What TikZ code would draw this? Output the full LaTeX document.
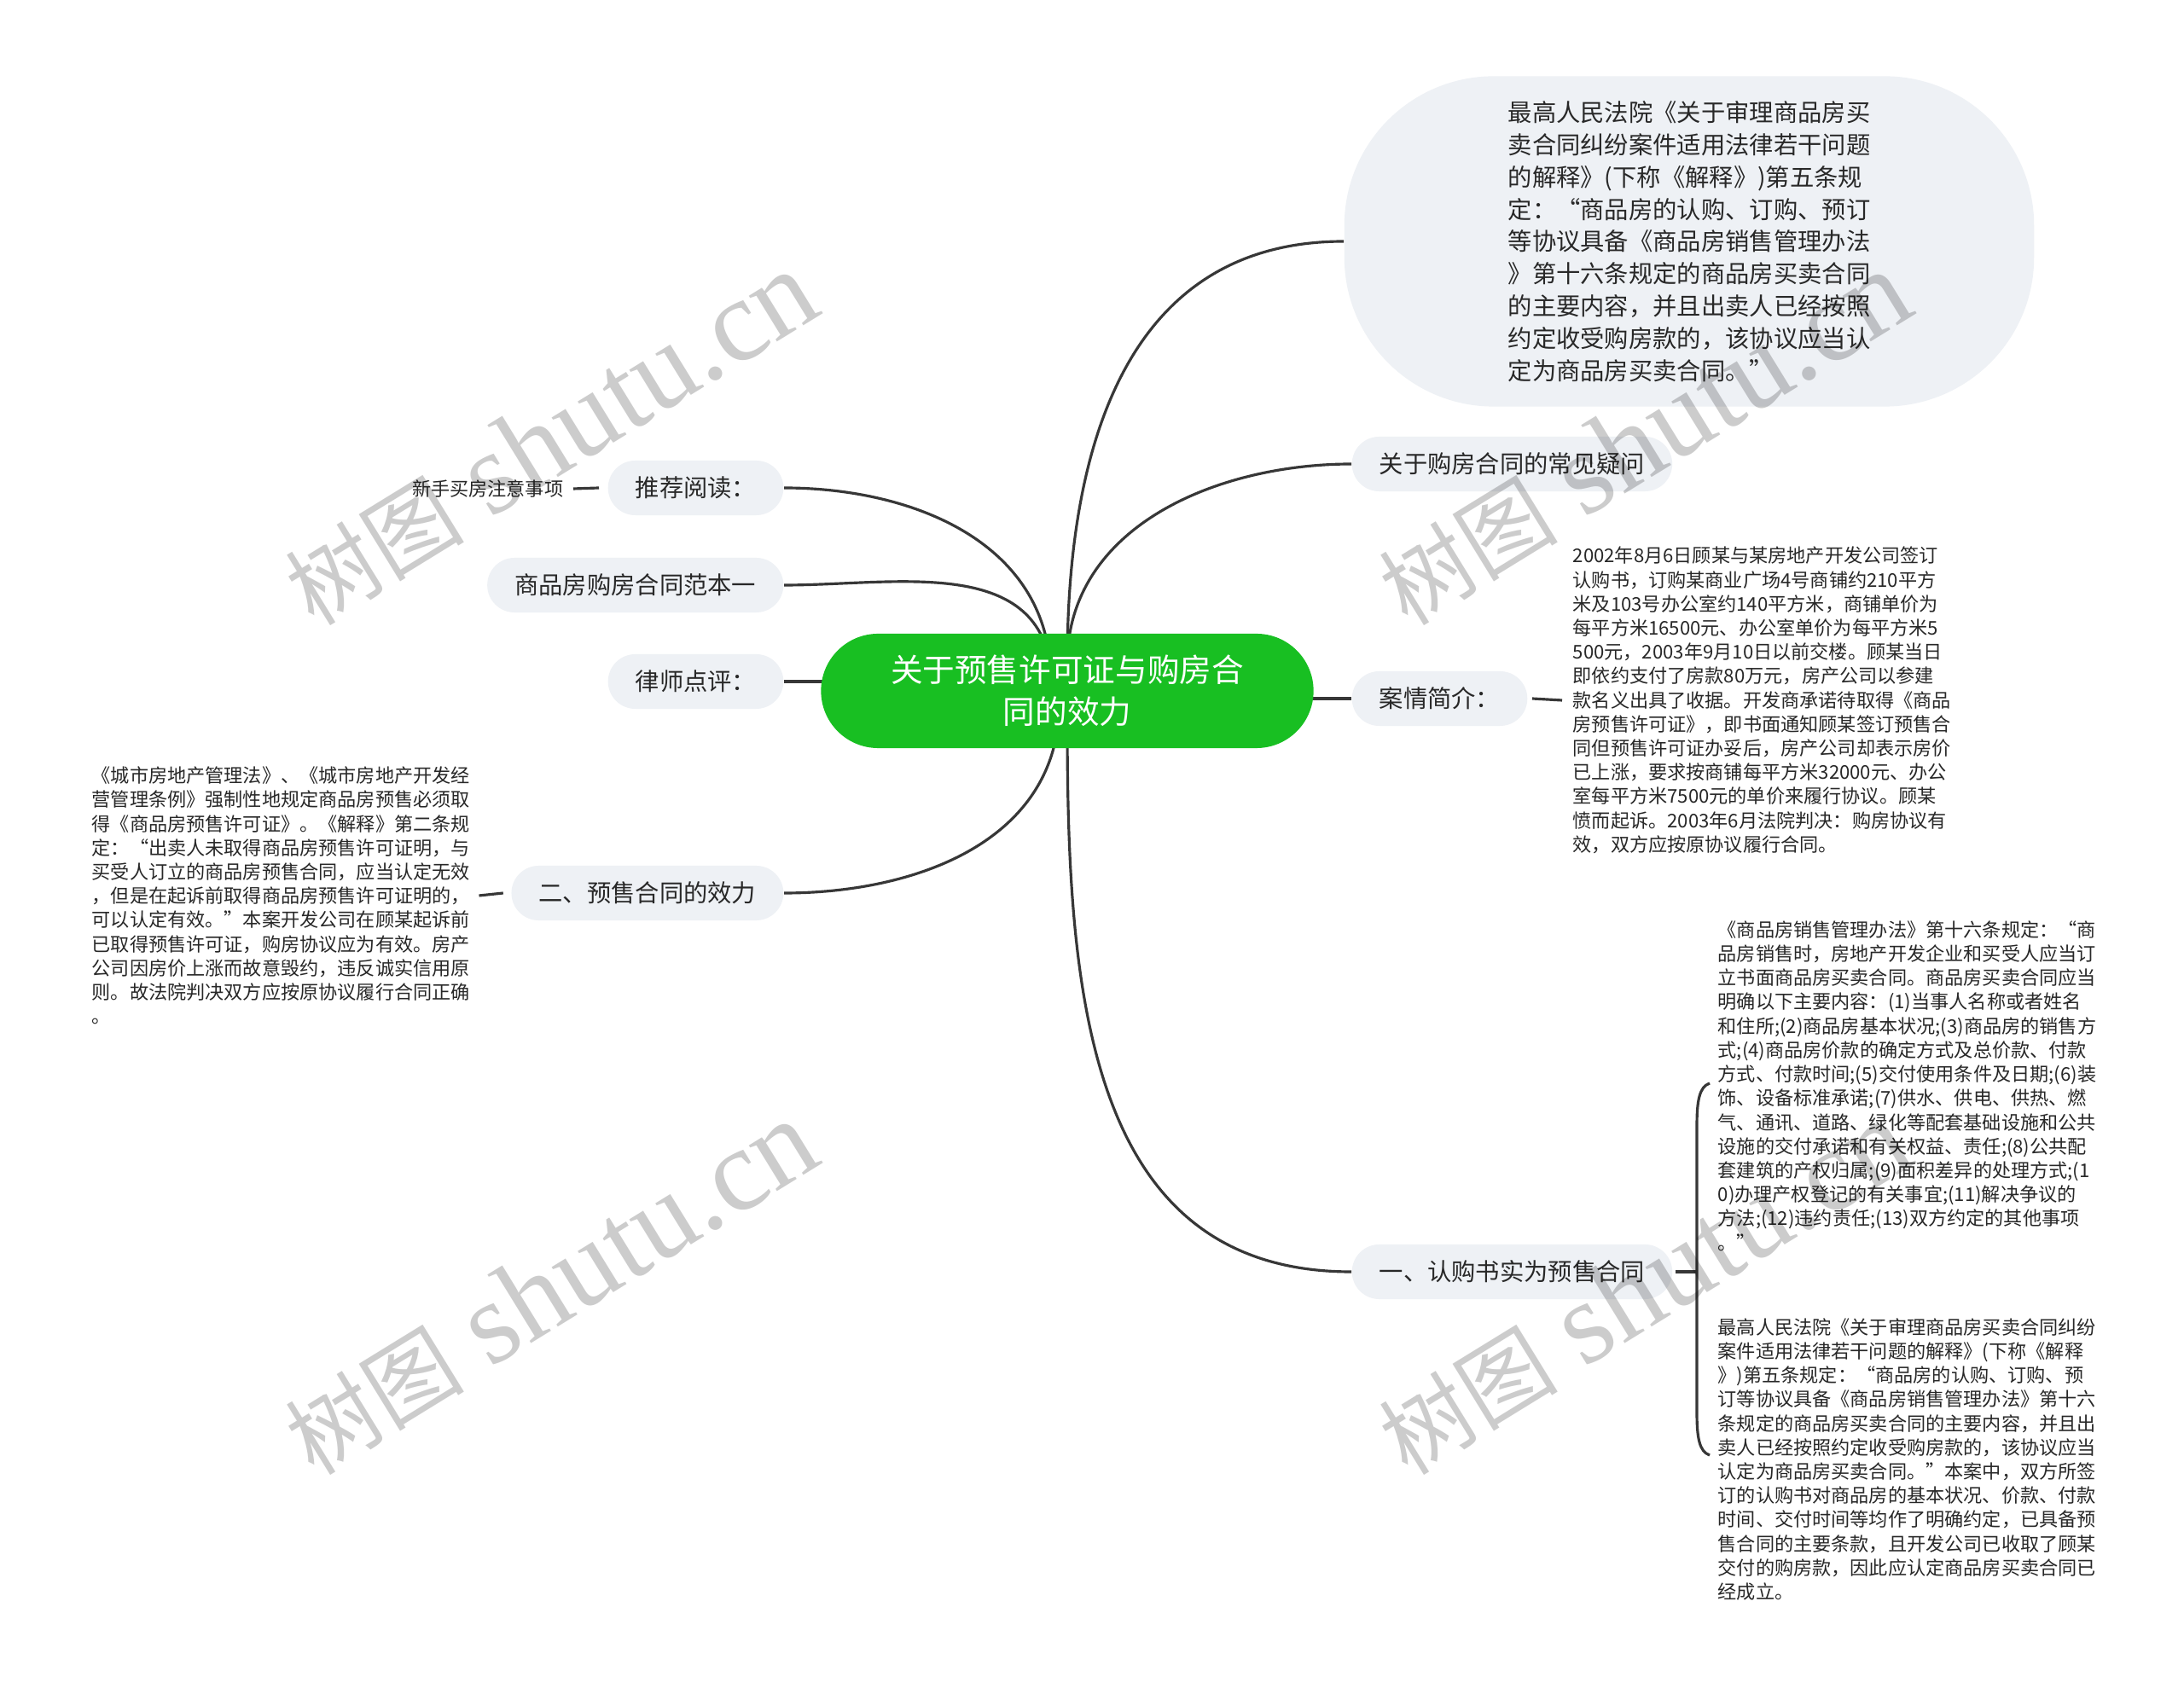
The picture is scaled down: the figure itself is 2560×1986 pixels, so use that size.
\documentclass[tikz,border=0pt]{standalone}
\usepackage{fontspec}
\setmainfont{Noto Sans CJK SC}
\newfontfamily\wmlatin{Liberation Serif}
\usetikzlibrary{backgrounds}
\definecolor{rootgreen}{RGB}{24,191,34}
\definecolor{boxgrey}{RGB}{238,241,245}
\definecolor{ink}{RGB}{40,40,40}
\definecolor{edgecol}{RGB}{55,55,55}
\tikzset{
  rootbox/.style={fill=rootgreen, rounded corners=0.67cm, minimum width=5.77cm, minimum height=1.34cm,
    text=white, align=center, inner sep=0pt, font=\fontsize{10.7}{13.9}\selectfont},
  topicbox/.style={fill=boxgrey, rounded corners=0.32cm, minimum height=0.64cm, inner xsep=0.32cm,
    inner ysep=0pt, text=ink, font=\fontsize{8.05}{10.75}\selectfont},
  bigbox/.style={fill=boxgrey, rounded corners=1.75cm, minimum width=8.08cm, minimum height=3.87cm,
    align=left, text=ink, inner sep=0pt, font=\fontsize{8.05}{10.75}\selectfont},
  detail/.style={text=ink, align=left, inner sep=0pt, font=\fontsize{6.3}{8.02}\selectfont},
  link/.style={draw=edgecol, line width=0.9pt},
  wm/.style={rotate=31.6, text=black, text opacity=0.2, inner sep=0pt}
}
\begin{document}
\begin{tikzpicture}[x=0.01cm, y=-0.01cm]
\useasboundingbox (0,0) rectangle (2560,1986);

% root
\node[rootbox] (root) at (1251,810) {关于预售许可证与购房合\\同的效力};

% right side
\node[bigbox] (t1) at (1980,283) {最高人民法院《关于审理商品房买\\%
卖合同纠纷案件适用法律若干问题\\%
的解释》(下称《解释》)第五条规\\%
定：“商品房的认购、订购、预订\\%
等协议具备《商品房销售管理办法\\%
》第十六条规定的商品房买卖合同\\%
的主要内容，并且出卖人已经按照\\%
约定收受购房款的，该协议应当认\\%
定为商品房买卖合同。”};
\node[topicbox, anchor=west] (t2) at (1584,544) {关于购房合同的常见疑问};
\node[topicbox, anchor=west] (t3) at (1584,819) {案情简介：};
\node[topicbox, anchor=west] (t4) at (1584,1491) {一、认购书实为预售合同};

\node[detail, anchor=west] (t3a) at (1843,821) {2002年8月6日顾某与某房地产开发公司签订\\%
认购书，订购某商业广场4号商铺约210平方\\%
米及103号办公室约140平方米，商铺单价为\\%
每平方米16500元、办公室单价为每平方米5\\%
500元，2003年9月10日以前交楼。顾某当日\\%
即依约支付了房款80万元，房产公司以参建\\%
款名义出具了收据。开发商承诺待取得《商品\\%
房预售许可证》，即书面通知顾某签订预售合\\%
同但预售许可证办妥后，房产公司却表示房价\\%
已上涨，要求按商铺每平方米32000元、办公\\%
室每平方米7500元的单价来履行协议。顾某\\%
愤而起诉。2003年6月法院判决：购房协议有\\%
效，双方应按原协议履行合同。};

\node[detail, anchor=west] (t4a) at (2013,1273) {《商品房销售管理办法》第十六条规定：“商\\%
品房销售时，房地产开发企业和买受人应当订\\%
立书面商品房买卖合同。商品房买卖合同应当\\%
明确以下主要内容：(1)当事人名称或者姓名\\%
和住所;(2)商品房基本状况;(3)商品房的销售方\\%
式;(4)商品房价款的确定方式及总价款、付款\\%
方式、付款时间;(5)交付使用条件及日期;(6)装\\%
饰、设备标准承诺;(7)供水、供电、供热、燃\\%
气、通讯、道路、绿化等配套基础设施和公共\\%
设施的交付承诺和有关权益、责任;(8)公共配\\%
套建筑的产权归属;(9)面积差异的处理方式;(1\\%
0)办理产权登记的有关事宜;(11)解决争议的\\%
方法;(12)违约责任;(13)双方约定的其他事项\\%
。”};

\node[detail, anchor=west] (t4b) at (2013,1711) {最高人民法院《关于审理商品房买卖合同纠纷\\%
案件适用法律若干问题的解释》(下称《解释\\%
》)第五条规定：“商品房的认购、订购、预\\%
订等协议具备《商品房销售管理办法》第十六\\%
条规定的商品房买卖合同的主要内容，并且出\\%
卖人已经按照约定收受购房款的，该协议应当\\%
认定为商品房买卖合同。”本案中，双方所签\\%
订的认购书对商品房的基本状况、价款、付款\\%
时间、交付时间等均作了明确约定，已具备预\\%
售合同的主要条款，且开发公司已收取了顾某\\%
交付的购房款，因此应认定商品房买卖合同已\\%
经成立。};

% left side
\node[topicbox, anchor=east] (l1) at (919,572) {推荐阅读：};
\node[topicbox, anchor=east] (l2) at (919,686) {商品房购房合同范本一};
\node[topicbox, anchor=east] (l3) at (919,799) {律师点评：};
\node[topicbox, anchor=east] (l4) at (919,1047) {二、预售合同的效力};
\node[detail, anchor=east] (l1a) at (661,573) {新手买房注意事项};
\node[detail, anchor=west] (l4a) at (107,1050) {《城市房地产管理法》、《城市房地产开发经\\%
营管理条例》强制性地规定商品房预售必须取\\%
得《商品房预售许可证》。《解释》第二条规\\%
定：“出卖人未取得商品房预售许可证明，与\\%
买受人订立的商品房预售合同，应当认定无效\\%
，但是在起诉前取得商品房预售许可证明的，\\%
可以认定有效。”本案开发公司在顾某起诉前\\%
已取得预售许可证，购房协议应为有效。房产\\%
公司因房价上涨而故意毁约，违反诚实信用原\\%
则。故法院判决双方应按原协议履行合同正确\\%
。};

% bracket ends
\coordinate (bt) at (2004,1270);
\coordinate (bb) at (2004,1706);
\coordinate (bj) at (1989,1491);

\begin{scope}[on background layer]
  \fill[white] (0,0) rectangle (2560,1986);
  \draw[link] ([yshift=-0.35cm]root.north) to[out=90, in=180, looseness=1.1] (t1.west);
  \draw[link] ([yshift=-0.35cm]root.north) to[out=90, in=180] (t2.west);
  \draw[link] (t3.west -| root.center) -- (t3.west);
  \draw[link] ([yshift=0.35cm]root.south) to[out=-90, in=180, looseness=1.1] (t4.west);
  \draw[link] ([xshift=-0.2cm,yshift=-0.35cm]root.north) to[out=95, in=0] (l1.east);
  \draw[link] ([xshift=-0.2cm,yshift=-0.35cm]root.north) to[out=100, in=0] (l2.east);
  \draw[link] (l3.east) -- (l3.east -| root.center);
  \draw[link] ([xshift=-0.1cm,yshift=0.35cm]root.south) to[out=-95, in=0] (l4.east);
\end{scope}

% second-level connectors
\draw[link] ([xshift=0.05cm]t3.east) -- ([xshift=-0.12cm]t3a.west);
\draw[link] ([xshift=0.11cm]l1a.east) -- ([xshift=-0.1cm]l1.west);
\draw[link] ([xshift=0.1cm]l4a.east) -- ([xshift=-0.09cm]l4.west);
\draw[link] ([xshift=0.03cm]t4.east) -- (bj);
\draw[link] (bt) .. controls (1992,1274) and (1989,1290) .. (1989,1320) -- (1989,1656)
  .. controls (1989,1686) and (1992,1702) .. (bb);

% watermarks
\foreach \p in {(645,514),(1927,514),(645,1510),(1927,1510)} {
  \node[wm] at \p {\fontsize{30}{30}\selectfont 树图\hspace{0.3em}{\wmlatin\fontsize{39}{39}\selectfont shutu.cn}};
}
\end{tikzpicture}
\end{document}
